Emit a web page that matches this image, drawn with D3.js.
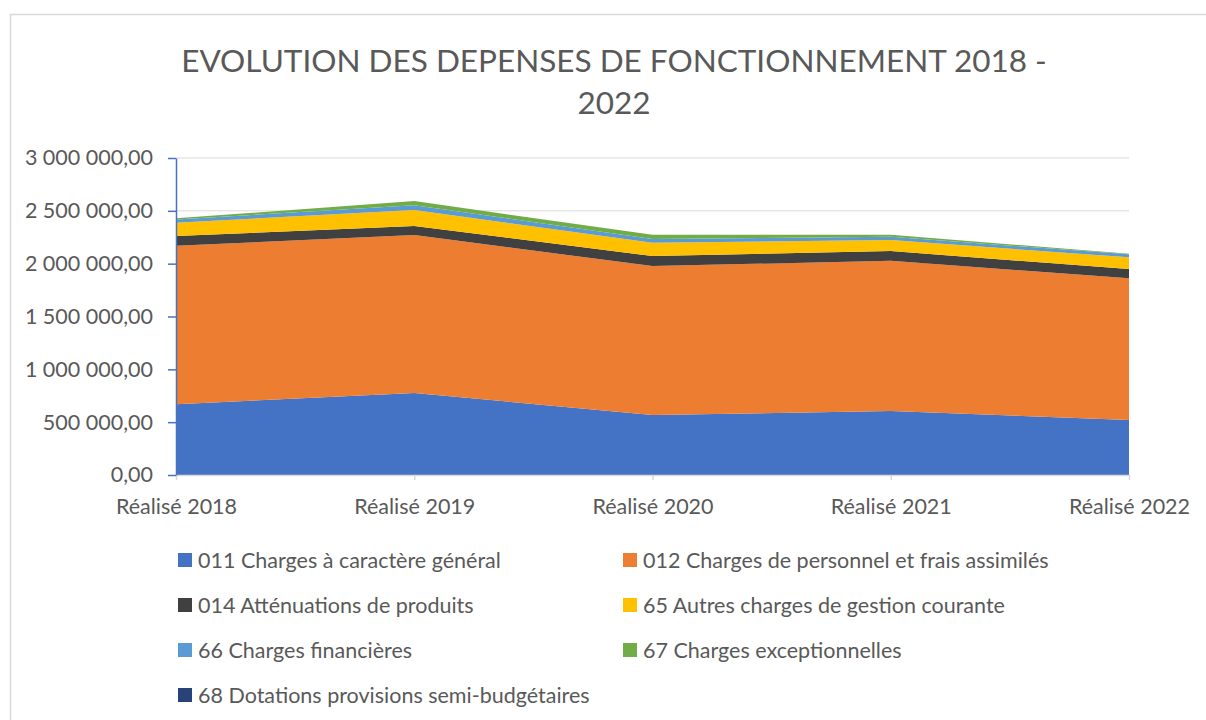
<!DOCTYPE html>
<html>
<head>
<meta charset="utf-8">
<script src="https://cdn.jsdelivr.net/npm/d3@7"></script>
<style>
  body { margin: 0; background: #fff; }
  svg { display: block; font-family: Lato, "Open Sans", sans-serif; }
</style>
</head>
<body>
<svg id="chart" width="1206" height="720"></svg>
<script>
// data
var years = ['Réalisé 2018', 'Réalisé 2019', 'Réalisé 2020', 'Réalisé 2021', 'Réalisé 2022'];
var seriesNames = [
  '011 Charges à caractère général',
  '012 Charges de personnel et frais assimilés',
  '014 Atténuations de produits',
  '65 Autres charges de gestion courante',
  '66 Charges financières',
  '67 Charges exceptionnelles',
  '68 Dotations provisions semi-budgétaires'
];
var c011 = [670000, 776000, 568000, 605000, 520000];
var c012 = [1499000, 1495000, 1409000, 1422000, 1341000];
var c014 = [92000, 85000, 95000, 92000, 88000];
var c65 = [126000, 151000, 126000, 104000, 111000];
var c66 = [30000, 47000, 35000, 31000, 28000];
var c67 = [12000, 38000, 40000, 19000, 6000];
var c68 = [0, 0, 0, 0, 0];
var yTicks = [0, 500000, 1000000, 1500000, 2000000, 2500000, 3000000];
var colors = ['#4472C4', '#ED7D31', '#404040', '#FFC000', '#5B9BD5', '#70AD47', '#264478'];

var allSeries = [c011, c012, c014, c65, c66, c67, c68];
var rows = years.map(function (yr, i) {
  var r = { year: yr };
  seriesNames.forEach(function (n, k) { r[n] = allSeries[k][i]; });
  return r;
});

var svg = d3.select('#chart');
var plotLeft = 176, plotRight = 1129, plotTop = 158, plotBottom = 475;

// outer frame of the chart
svg.append('rect')
  .attr('x', 10.5).attr('y', 14.5)
  .attr('width', 1220).attr('height', 720)
  .attr('fill', 'none')
  .attr('stroke', '#d9d9d9')
  .attr('stroke-width', 1.5);

// title
var title = svg.append('text')
  .attr('text-anchor', 'middle')
  .attr('fill', '#595959')
  .attr('font-size', 31.5);
title.append('tspan').attr('x', 614).attr('y', 72).text('EVOLUTION DES DEPENSES DE FONCTIONNEMENT 2018 -');
title.append('tspan').attr('x', 614).attr('y', 114).text('2022');

var x = d3.scalePoint().domain(years).range([plotLeft, plotRight]);
var y = d3.scaleLinear().domain([0, 3000000]).range([plotBottom, plotTop]);

// gridlines
svg.append('g').selectAll('line')
  .data(yTicks.slice(1))
  .enter().append('line')
  .attr('x1', plotLeft).attr('x2', plotRight)
  .attr('y1', function (d) { return y(d); })
  .attr('y2', function (d) { return y(d); })
  .attr('stroke', '#d9d9d9')
  .attr('stroke-width', 1);

var stack = d3.stack().keys(seriesNames);
var layers = stack(rows);

var area = d3.area()
  .x(function (d) { return x(d.data.year); })
  .y0(function (d) { return y(d[0]); })
  .y1(function (d) { return y(d[1]); });

svg.append('g').selectAll('path')
  .data(layers)
  .enter().append('path')
  .attr('d', area)
  .attr('fill', function (d, i) { return colors[i]; });

var fmt = function (v) {
  return d3.format(',.2f')(v).replace(/,/g, ' ').replace('.', ',');
};

// x axis
var xAxis = svg.append('g')
  .attr('transform', 'translate(0,' + plotBottom + ')')
  .call(d3.axisBottom(x).tickSizeInner(5).tickSizeOuter(0).tickPadding(19));
xAxis.select('.domain').attr('stroke', '#d9d9d9').attr('stroke-width', 1.5);
xAxis.selectAll('.tick line').attr('stroke', '#d9d9d9').attr('stroke-width', 1.5);
xAxis.selectAll('.tick text')
  .attr('fill', '#595959')
  .attr('font-size', 21.5)
  .attr('font-family', 'Lato, sans-serif');

// y axis
var yAxis = svg.append('g')
  .attr('transform', 'translate(' + plotLeft + ',0)')
  .call(d3.axisLeft(y).tickValues(yTicks).tickFormat(fmt).tickSizeInner(8).tickSizeOuter(0).tickPadding(15));
yAxis.select('.domain').attr('stroke', '#4472C4').attr('stroke-width', 1.5);
yAxis.selectAll('.tick line').attr('stroke', '#4472C4').attr('stroke-width', 1.5);
yAxis.selectAll('.tick text')
  .attr('fill', '#595959')
  .attr('font-size', 21.5)
  .attr('font-family', 'Lato, sans-serif');

// legend
var legend = svg.append('g').selectAll('g')
  .data(seriesNames)
  .enter().append('g')
  .attr('transform', function (d, i) {
    var col = i % 2, row = Math.floor(i / 2);
    return 'translate(' + (178 + col * 445) + ',' + (560 + row * 45) + ')';
  });
legend.append('rect')
  .attr('x', 0).attr('y', -7)
  .attr('width', 14).attr('height', 14)
  .attr('fill', function (d, i) { return colors[i]; });
legend.append('text')
  .attr('x', 20).attr('y', 0)
  .attr('dy', '0.35em')
  .attr('fill', '#595959')
  .attr('font-size', 21.5)
  .text(function (d) { return d; });
</script>
</body>
</html>
